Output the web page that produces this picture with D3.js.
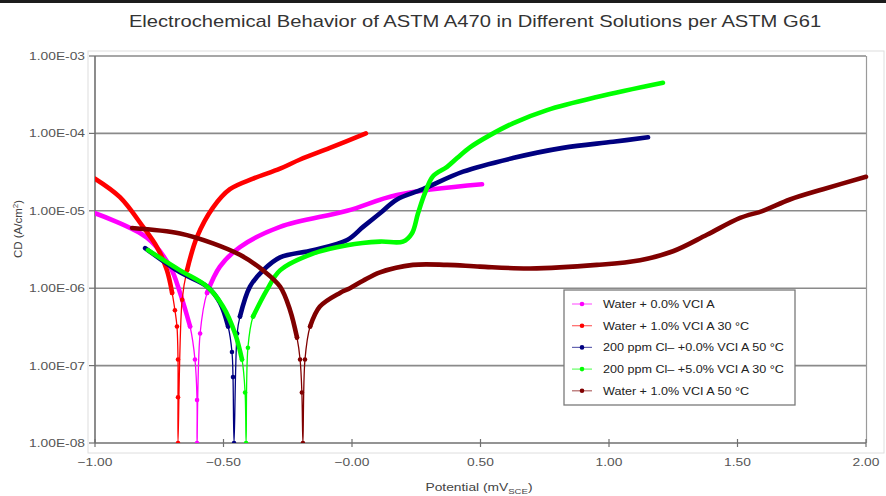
<!DOCTYPE html>
<html>
<head>
<meta charset="utf-8">
<script src="https://cdn.jsdelivr.net/npm/d3@7"></script>
<style>
body { margin: 0; background: #fff; }
svg { display: block; }
text { font-family: "Liberation Sans", Arial, sans-serif; }
</style>
</head>
<body>
<div class="Canvas"></div>
<script>
// Potential (V) and current density (A/cm2), one pair of arrays per curve.
const waterE = [-1.00, -0.798, -0.708, -0.669, -0.630, -0.611, -0.603, -0.603, -0.591, -0.564, -0.514, -0.436, -0.280, -0.019, 0.175, 0.506];
const waterCD = [9.3e-6, 4.5e-6, 1.9e-6, 8.7e-7, 3.2e-7, 1.2e-7, 3.6e-8, 1e-8, 2.6e-7, 8.7e-7, 1.9e-6, 3.4e-6, 6.2e-6, 1.0e-5, 1.6e-5, 2.2e-5];

const vci30E = [-1.00, -0.903, -0.813, -0.759, -0.720, -0.700, -0.689, -0.681, -0.677, -0.677, -0.677, -0.661, -0.642, -0.603, -0.541, -0.475, -0.385, -0.280, -0.202, -0.086, 0.054];
const vci30CD = [2.6e-5, 1.5e-5, 6.2e-6, 3.4e-6, 1.7e-6, 8.7e-7, 5.2e-7, 3.2e-7, 1.2e-7, 3.9e-8, 1e-8, 7.1e-7, 1.7e-6, 4.6e-6, 1.1e-5, 1.9e-5, 2.6e-5, 3.5e-5, 4.6e-5, 6.5e-5, 1.0e-4];

const cl0E = [-0.805, -0.669, -0.564, -0.514, -0.482, -0.467, -0.463, -0.459, -0.447, -0.436, -0.397, -0.346, -0.280, -0.152, -0.019, 0.043, 0.109, 0.175, 0.276, 0.432, 0.626, 0.821, 1.016, 1.152];
const cl0CD = [3.3e-6, 1.6e-6, 1.05e-6, 6.5e-7, 3.2e-7, 1.5e-7, 7.1e-8, 1e-8, 2.6e-7, 4.3e-7, 1.05e-6, 1.7e-6, 2.5e-6, 3.1e-6, 4.2e-6, 6.2e-6, 9.3e-6, 1.4e-5, 1.9e-5, 3.2e-5, 4.8e-5, 6.5e-5, 7.8e-5, 8.9e-5];

const cl5E = [-0.794, -0.669, -0.564, -0.502, -0.455, -0.428, -0.416, -0.412, -0.405, -0.385, -0.331, -0.280, -0.152, -0.019, 0.109, 0.198, 0.233, 0.257, 0.284, 0.315, 0.370, 0.409, 0.459, 0.537, 0.626, 0.759, 0.953, 1.210];
const cl5CD = [3.1e-6, 1.7e-6, 1.05e-6, 5.8e-7, 2.6e-7, 1.2e-7, 4.5e-8, 1e-8, 1.7e-7, 4.3e-7, 9.5e-7, 1.7e-6, 2.8e-6, 3.6e-6, 4.0e-6, 4.0e-6, 5.1e-6, 9.3e-6, 1.7e-5, 2.8e-5, 3.7e-5, 4.8e-5, 6.6e-5, 9.5e-5, 1.35e-4, 2.0e-4, 2.95e-4, 4.5e-4];

const vci50E = [-0.856, -0.669, -0.541, -0.436, -0.346, -0.280, -0.241, -0.214, -0.202, -0.195, -0.191, -0.183, -0.163, -0.125, -0.047, -0.008, 0.043, 0.109, 0.237, 0.370, 0.498, 0.693, 0.953, 1.121, 1.249, 1.381, 1.510, 1.599, 1.704, 1.833, 2.00];
const vci50CD = [6.0e-6, 5.1e-6, 3.8e-6, 2.7e-6, 1.7e-6, 1.05e-6, 5.2e-7, 2.3e-7, 1.2e-7, 4.5e-8, 1e-8, 1.2e-7, 3.2e-7, 5.8e-7, 8.7e-7, 1.0e-6, 1.25e-6, 1.6e-6, 2.0e-6, 2.0e-6, 1.9e-6, 1.8e-6, 2.0e-6, 2.3e-6, 3.0e-6, 4.9e-6, 8.1e-6, 1.0e-5, 1.4e-5, 1.9e-5, 2.75e-5];

const seriesNames = ['Water + 0.0% VCI A', 'Water + 1.0% VCI A 30 °C', '200 ppm Cl– +0.0% VCI A 50 °C', '200 ppm Cl– +5.0% VCI A 30 °C', 'Water + 1.0% VCI A 50 °C'];
const seriesColors = ['#ff00ff', '#ff0000', '#000080', '#00ff00', '#800000'];
const seriesE = [waterE, vci30E, cl0E, cl5E, vci50E];
const seriesCD = [waterCD, vci30CD, cl0CD, cl5CD, vci50CD];

const xTicks = [-1, -0.5, 0, 0.5, 1, 1.5, 2];
const xTickLabels = ['\u22121.00', '\u22120.50', '\u22120.00', '0.50', '1.00', '1.50', '2.00'];
const yTicks = [1e-8, 1e-7, 1e-6, 1e-5, 1e-4, 1e-3];
const yTickLabels = ['1.00E-08', '1.00E-07', '1.00E-06', '1.00E-05', '1.00E-04', '1.00E-03'];

const width = 886, height = 496;
const plotLeft = 95, plotRight = 866, plotTop = 56, plotBottom = 443;
// the picture is stretched sideways, so the text is too
const stretch = 1.2;

const x = d3.scaleLinear().domain([-1, 2]).range([plotLeft, plotRight]);
const y = d3.scaleLog().domain([1e-8, 1e-3]).range([plotBottom, plotTop]);

const svg = d3.select('.Canvas').append('svg').attr('width', width).attr('height', height);

svg.append('rect').attr('x', 0).attr('y', 0).attr('width', width).attr('height', 3).attr('fill', '#1c1c1c');

// outer light border of the plot region
svg.append('rect').attr('x', 88).attr('y', 51).attr('width', 796).attr('height', 402)
    .attr('fill', 'none').attr('stroke', '#dedede').attr('stroke-width', 1);

const addText = (g, px, py, str, size, anchor, color, sx = stretch) => {
    return g.append('text')
        .attr('transform', `translate(${px},${py}) scale(${sx},1)`)
        .attr('text-anchor', anchor)
        .attr('font-size', size + 'px')
        .attr('fill', color)
        .text(str);
};

// title
addText(svg, 475, 27, 'Electrochemical Behavior of ASTM A470 in Different Solutions per ASTM G61', 16.4, 'middle', '#333', 1.23);

// grid lines
svg.append('g').selectAll('line').data(yTicks.slice(1)).enter().append('line')
    .attr('x1', plotLeft).attr('x2', plotRight)
    .attr('y1', (d) => y(d)).attr('y2', (d) => y(d))
    .attr('stroke', '#8a8a8a').attr('stroke-width', 1.6);

// right frame
svg.append('line').attr('x1', plotRight + 0.5).attr('x2', plotRight + 0.5).attr('y1', plotTop).attr('y2', plotBottom)
    .attr('stroke', '#9a9a9a').attr('stroke-width', 1.2);

// axes
svg.append('line').attr('x1', plotLeft).attr('x2', plotLeft).attr('y1', plotTop).attr('y2', plotBottom)
    .attr('stroke', '#707070').attr('stroke-width', 1.6);
svg.append('line').attr('x1', plotLeft).attr('x2', plotRight).attr('y1', plotBottom).attr('y2', plotBottom)
    .attr('stroke', '#707070').attr('stroke-width', 1.6);

const yAxis = svg.append('g');
yAxis.selectAll('line').data(yTicks).enter().append('line')
    .attr('x1', plotLeft - 6).attr('x2', plotLeft)
    .attr('y1', (d) => y(d)).attr('y2', (d) => y(d))
    .attr('stroke', '#707070').attr('stroke-width', 1.2);
yTicks.forEach((d, i) => {
    addText(yAxis, 85, y(d) + 4, yTickLabels[i], 11.5, 'end', '#555');
});

const xAxis = svg.append('g');
xAxis.selectAll('line').data(xTicks).enter().append('line')
    .attr('x1', (d) => x(d)).attr('x2', (d) => x(d))
    .attr('y1', plotBottom - 4).attr('y2', plotBottom + 4)
    .attr('stroke', '#707070').attr('stroke-width', 1.2);
xTicks.forEach((d, i) => {
    addText(xAxis, x(d), 466, xTickLabels[i], 11.5, 'middle', '#555');
});

// axis titles
const xTitle = svg.append('text')
    .attr('transform', `translate(479,491) scale(${stretch},1)`)
    .attr('text-anchor', 'middle').attr('font-size', '11.5px').attr('fill', '#444');
xTitle.append('tspan').text('Potential (mV');
xTitle.append('tspan').attr('font-size', '8px').attr('dy', 3).text('SCE');
xTitle.append('tspan').attr('dy', -3).text(')');

const yTitle = svg.append('text')
    .attr('transform', `translate(22,229) rotate(-90)`)
    .attr('text-anchor', 'middle').attr('font-size', '11.5px').attr('fill', '#444');
yTitle.append('tspan').text('CD (A/cm');
yTitle.append('tspan').attr('font-size', '8px').attr('dy', -4).text('2');
yTitle.append('tspan').attr('dy', 4).text(')');

// curves
svg.append('clipPath').attr('id', 'plotClip').append('rect')
    .attr('x', plotLeft).attr('y', plotTop - 4).attr('width', plotRight - plotLeft + 4).attr('height', plotBottom - plotTop + 4);
const plot = svg.append('g').attr('clip-path', 'url(#plotClip)');
const line = d3.line().curve(d3.curveCatmullRom.alpha(0.5));

seriesE.forEach((es, s) => {
    const pts = es.map((e, i) => [x(e), y(seriesCD[s][i])]);
    const color = seriesColors[s];
    const g = plot.append('g');

    // thin connecting line everywhere
    g.append('path').attr('d', line(pts)).attr('fill', 'none')
        .attr('stroke', color).attr('stroke-width', 1.3);

    // where the markers crowd together the curve reads as a thick band, steep parts show single dots
    const runs = [];
    const steep = new Set();
    let cur = null;
    for (let i = 1; i < pts.length; i++) {
        const dx = Math.abs(pts[i][0] - pts[i - 1][0]);
        const dy = Math.abs(pts[i][1] - pts[i - 1][1]);
        if (dy <= 5 * dx) {
            if (!cur) { cur = [pts[i - 1]]; runs.push(cur); }
            cur.push(pts[i]);
        } else {
            cur = null;
            steep.add(i - 1); steep.add(i);
        }
    }
    runs.forEach((r) => {
        g.append('path').attr('d', line(r)).attr('fill', 'none')
            .attr('stroke', color).attr('stroke-width', 4.6)
            .attr('stroke-linecap', 'round').attr('stroke-linejoin', 'round');
    });
    g.selectAll('circle').data(pts.filter((p, i) => steep.has(i))).enter().append('circle')
        .attr('cx', (d) => d[0]).attr('cy', (d) => d[1]).attr('r', 2.3).attr('fill', color);
});

// legend
const legend = svg.append('g');
legend.append('rect').attr('x', 564).attr('y', 290).attr('width', 231).attr('height', 115)
    .attr('fill', '#fff').attr('stroke', '#7a7a7a').attr('stroke-width', 1.3);
seriesNames.forEach((name, i) => {
    const ly = 304 + i * 21.7;
    legend.append('line').attr('x1', 572).attr('x2', 592).attr('y1', ly).attr('y2', ly)
        .attr('stroke', seriesColors[i]).attr('stroke-width', 1.2).attr('opacity', 0.6);
    legend.append('circle').attr('cx', 582).attr('cy', ly).attr('r', 2.3).attr('fill', seriesColors[i]);
    addText(legend, 603, ly + 3.8, name, 10.5, 'start', '#222');
});
</script>
</body>
</html>
